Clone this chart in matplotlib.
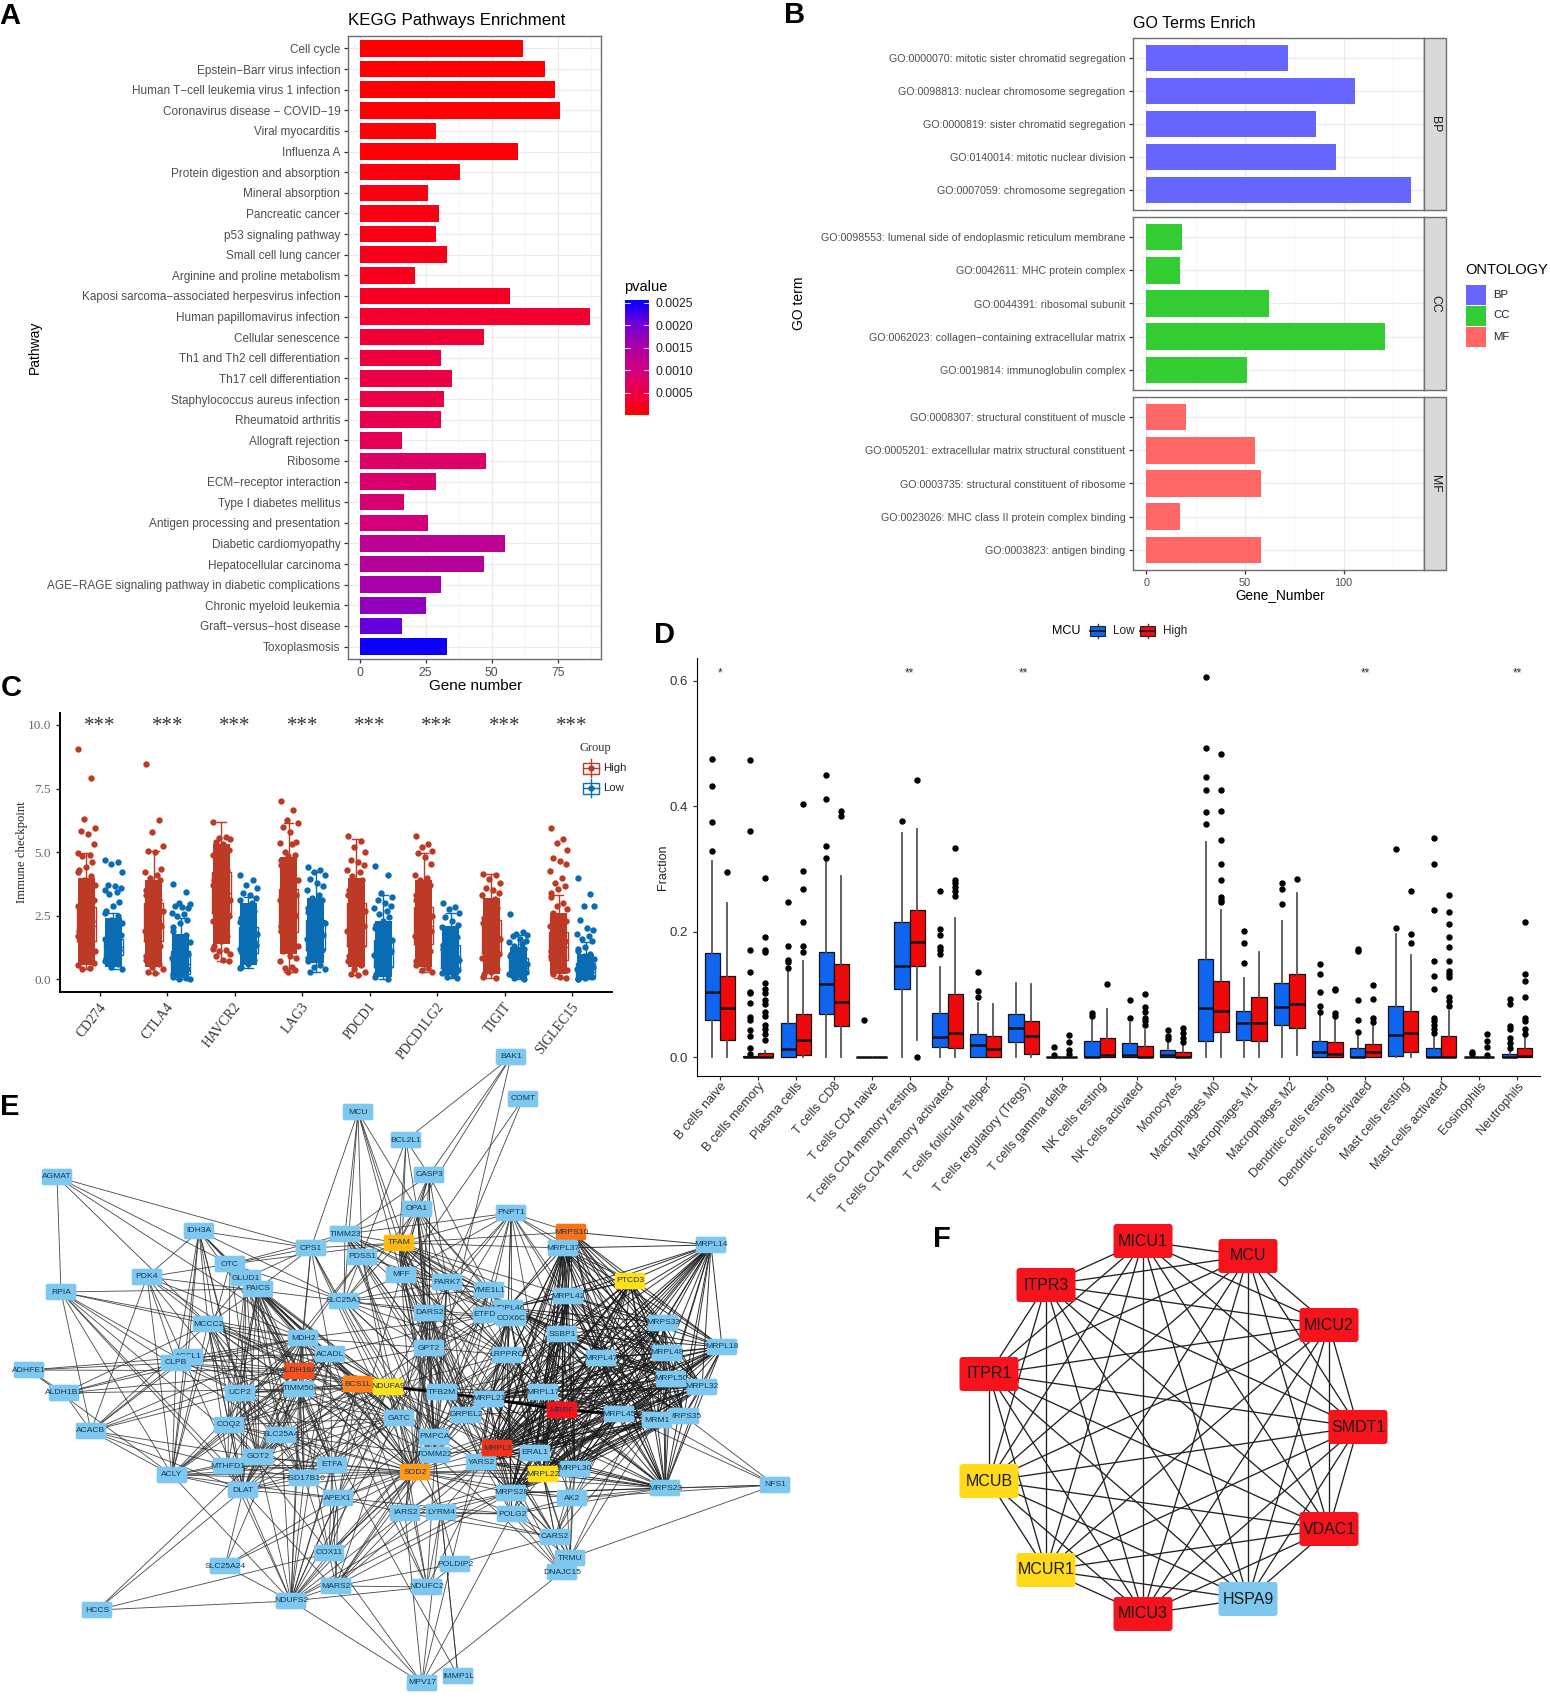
"""Six panel figure: KEGG, GO, immune checkpoints, immune fractions, PPI networks"""
from itertools import combinations
import matplotlib
matplotlib.use('Agg')
import matplotlib.pyplot as plt
from matplotlib.cm import ScalarMappable
from matplotlib.collections import LineCollection
from matplotlib.colors import LinearSegmentedColormap, Normalize
from matplotlib.patches import FancyBboxPatch, Rectangle
from matplotlib.transforms import ScaledTranslation

plt.rcParams['font.family'] = ['Liberation Sans', 'DejaVu Sans']

W, H = 1550, 1704
SERIF = ['Liberation Serif', 'DejaVu Serif']

# === Panel A data ===
KEGG_TERMS = ['Cell cycle', 'Epstein−Barr virus infection', 'Human T−cell leukemia virus 1 infection',
              'Coronavirus disease − COVID−19', 'Viral myocarditis', 'Influenza A',
              'Protein digestion and absorption', 'Mineral absorption', 'Pancreatic cancer',
              'p53 signaling pathway', 'Small cell lung cancer', 'Arginine and proline metabolism',
              'Kaposi sarcoma−associated herpesvirus infection', 'Human papillomavirus infection',
              'Cellular senescence', 'Th1 and Th2 cell differentiation', 'Th17 cell differentiation',
              'Staphylococcus aureus infection', 'Rheumatoid arthritis', 'Allograft rejection', 'Ribosome',
              'ECM−receptor interaction', 'Type I diabetes mellitus', 'Antigen processing and presentation',
              'Diabetic cardiomyopathy', 'Hepatocellular carcinoma',
              'AGE−RAGE signaling pathway in diabetic complications', 'Chronic myeloid leukemia',
              'Graft−versus−host disease', 'Toxoplasmosis']
KEGG_COUNT = [62, 70, 74, 76, 29, 60, 38, 26, 30, 29, 33, 21, 57, 87, 47, 31, 35, 32, 31, 16, 48, 29, 17, 26,
              55, 47, 31, 25, 16, 33]
KEGG_P = [0.00001, 0.00002, 0.00003, 0.00004, 0.00006, 0.00007, 0.0001, 0.00012, 0.00014, 0.00016, 0.0002,
          0.00022, 0.00027, 0.00035, 0.0004, 0.00045, 0.0005, 0.00052, 0.00058, 0.00065, 0.0008, 0.00085,
          0.0009, 0.00098, 0.00128, 0.00135, 0.00155, 0.00175, 0.0021, 0.0025]
P_TICKS = [0.0005, 0.0010, 0.0015, 0.0020, 0.0025]

# === Panel B data ===
BP_TERMS = ['GO:0000070: mitotic sister chromatid segregation', 'GO:0098813: nuclear chromosome segregation',
            'GO:0000819: sister chromatid segregation', 'GO:0140014: mitotic nuclear division',
            'GO:0007059: chromosome segregation']
BP_COUNT = [72, 106, 86, 96, 134]
CC_TERMS = ['GO:0098553: lumenal side of endoplasmic reticulum membrane', 'GO:0042611: MHC protein complex',
            'GO:0044391: ribosomal subunit', 'GO:0062023: collagen−containing extracellular matrix',
            'GO:0019814: immunoglobulin complex']
CC_COUNT = [18, 17, 62, 121, 51]
MF_TERMS = ['GO:0008307: structural constituent of muscle', 'GO:0005201: extracellular matrix structural constituent',
            'GO:0003735: structural constituent of ribosome', 'GO:0023026: MHC class II protein complex binding',
            'GO:0003823: antigen binding']
MF_COUNT = [20, 55, 58, 17, 58]

# === Panel C data ===
CHECKPOINTS = ['CD274', 'CTLA4', 'HAVCR2', 'LAG3', 'PDCD1', 'PDCD1LG2', 'TIGIT', 'SIGLEC15']
C_HIGH_Q1 = [1.5, 1.5, 2.6, 1.85, 1.3, 1.4, 1.05, 0.75]
C_HIGH_MED = [2.1, 2.2, 3.4, 2.6, 2.1, 2.1, 1.7, 1.25]
C_HIGH_Q3 = [2.85, 3.0, 4.2, 3.55, 3.0, 2.85, 2.35, 1.85]
C_HIGH_LO = [0.4, 0.25, 0.7, 0.3, 0.15, 0.3, 0.05, 0.05]
C_HIGH_HI = [4.95, 5.05, 6.2, 6.15, 5.5, 4.95, 4.15, 3.3]
C_LOW_Q1 = [0.95, 0.2, 1.05, 1.15, 0.5, 0.45, 0.2, 0.05]
C_LOW_MED = [1.25, 0.6, 1.5, 1.7, 1.0, 0.9, 0.45, 0.3]
C_LOW_Q3 = [1.6, 1.1, 2.05, 2.35, 1.55, 1.35, 0.85, 0.65]
C_LOW_LO = [0.4, 0.0, 0.45, 0.3, 0.0, 0.05, 0.03, 0.0]
C_LOW_HI = [2.6, 2.4, 3.25, 4.2, 3.3, 2.6, 1.75, 1.45]
# range where the dots merge into a solid column
C_HIGH_DENSE = [(0.55, 4.0), (0.5, 3.9), (1.4, 5.3), (1.0, 4.8), (0.5, 4.0), (0.5, 3.9), (0.2, 3.2), (0.2, 2.6)]
C_LOW_DENSE = [(0.5, 2.4), (0.05, 1.8), (0.55, 3.0), (0.65, 3.2), (0.1, 2.3), (0.15, 2.1), (0.05, 1.25), (0.02, 1.0)]
C_HIGH_POINTS = [
    [9.05, 7.9, 6.3, 5.95, 5.85, 5.7, 5.3, 4.95, 4.9, 4.85, 4.6, 4.4, 4.3, 4.2, 4.05, 3.9, 3.7, 3.5, 3.3, 3.1, 2.9,
     2.7, 2.5, 2.3, 2.1, 1.9, 1.7, 1.5, 1.3, 1.1, 0.95, 0.8, 0.65, 0.55, 0.45, 0.4],
    [8.45, 6.25, 5.8, 5.25, 5.05, 5.0, 4.35, 4.2, 4.1, 4.0, 3.9, 3.7, 3.5, 3.3, 3.1, 2.9, 2.7, 2.5, 2.3, 2.1, 1.9,
     1.7, 1.5, 1.3, 1.1, 0.9, 0.75, 0.6, 0.5, 0.4, 0.3, 0.25],
    [6.2, 5.6, 5.55, 5.5, 5.4, 5.3, 5.1, 4.9, 4.7, 4.5, 4.3, 4.1, 3.9, 3.7, 3.5, 3.3, 3.1, 2.9, 2.7, 2.5, 2.3, 2.1,
     1.9, 1.7, 1.5, 1.3, 1.2, 1.15, 1.1, 1.0, 0.9, 0.75, 0.7],
    [7.0, 6.65, 6.25, 6.15, 6.0, 5.8, 5.4, 5.35, 5.3, 5.0, 4.9, 4.85, 4.7, 4.5, 4.3, 4.1, 3.9, 3.7, 3.5, 3.3, 3.1,
     2.9, 2.7, 2.5, 2.3, 2.1, 1.9, 1.7, 1.5, 1.3, 1.1, 0.9, 0.85, 0.7, 0.5, 0.45, 0.35, 0.3],
    [5.65, 5.45, 5.2, 5.0, 4.7, 4.6, 4.5, 4.3, 4.2, 4.05, 3.9, 3.7, 3.5, 3.3, 3.1, 2.9, 2.7, 2.5, 2.3, 2.1, 1.9, 1.7,
     1.5, 1.3, 1.1, 0.9, 0.7, 0.55, 0.4, 0.3, 0.2, 0.15],
    [5.65, 5.3, 5.2, 5.05, 4.95, 4.8, 4.55, 4.1, 4.0, 3.9, 3.7, 3.5, 3.3, 3.1, 2.9, 2.7, 2.5, 2.3, 2.1, 1.9, 1.7, 1.5,
     1.3, 1.1, 0.9, 0.7, 0.55, 0.45, 0.35, 0.3],
    [4.15, 4.1, 3.95, 3.8, 3.6, 3.5, 3.4, 3.3, 3.15, 3.0, 2.8, 2.6, 2.4, 2.2, 2.0, 1.8, 1.6, 1.4, 1.2, 1.0, 0.85, 0.7,
     0.55, 0.4, 0.3, 0.2, 0.1, 0.05],
    [5.95, 5.5, 5.35, 5.1, 4.75, 4.65, 4.55, 4.25, 4.0, 3.8, 3.65, 3.55, 3.4, 3.25, 3.0, 2.9, 2.75, 2.6, 2.45, 2.3,
     2.1, 1.9, 1.7, 1.5, 1.3, 1.1, 0.9, 0.7, 0.5, 0.35, 0.2, 0.1, 0.05]]
C_LOW_POINTS = [
    [4.7, 4.6, 4.55, 4.2, 3.7, 3.65, 3.6, 3.5, 3.45, 3.35, 3.05, 2.9, 2.7, 2.6, 2.5, 2.35, 2.2, 2.05, 1.9, 1.75, 1.6,
     1.45, 1.3, 1.15, 1.0, 0.85, 0.7, 0.6, 0.5, 0.4],
    [3.75, 3.45, 3.0, 2.95, 2.9, 2.85, 2.8, 2.6, 2.55, 2.5, 2.35, 2.2, 2.05, 1.9, 1.75, 1.6, 1.45, 1.3, 1.15, 1.0, 0.85,
     0.7, 0.55, 0.4, 0.3, 0.2, 0.1, 0.05, 0.0, 0.0],
    [4.1, 3.9, 3.7, 3.6, 3.4, 3.3, 3.2, 3.1, 3.0, 2.85, 2.7, 2.55, 2.4, 2.25, 2.1, 1.95, 1.8, 1.65, 1.5, 1.35, 1.2,
     1.05, 0.9, 0.75, 0.6, 0.5, 0.45],
    [4.4, 4.3, 4.2, 4.1, 3.95, 3.8, 3.65, 3.5, 3.3, 3.2, 3.1, 2.95, 2.8, 2.65, 2.5, 2.35, 2.2, 2.05, 1.9, 1.75, 1.6,
     1.45, 1.3, 1.15, 1.0, 0.85, 0.7, 0.55, 0.5, 0.4, 0.3],
    [4.45, 4.1, 3.4, 3.25, 3.1, 3.0, 2.9, 2.8, 2.7, 2.55, 2.45, 2.3, 2.15, 2.0, 1.85, 1.7, 1.55, 1.4, 1.25, 1.1, 0.95,
     0.8, 0.65, 0.5, 0.35, 0.2, 0.1, 0.0],
    [3.0, 2.85, 2.75, 2.6, 2.45, 2.3, 2.15, 2.05, 1.95, 1.8, 1.65, 1.5, 1.35, 1.2, 1.05, 0.9, 0.75, 0.6, 0.45, 0.35,
     0.25, 0.15, 0.1, 0.05],
    [2.55, 1.85, 1.8, 1.75, 1.7, 1.6, 1.5, 1.45, 1.4, 1.3, 1.2, 1.1, 1.0, 0.9, 0.8, 0.7, 0.6, 0.5, 0.4, 0.3, 0.2, 0.1,
     0.05, 0.03],
    [4.0, 3.35, 2.9, 2.9, 2.35, 2.0, 1.95, 1.8, 1.7, 1.6, 1.5, 1.25, 1.2, 1.1, 1.0, 0.9, 0.8, 0.7, 0.6, 0.5, 0.4, 0.3,
     0.2, 0.1, 0.05, 0.0, 0.0]]

# === Panel D data ===
CELL_TYPES = ['B cells naive', 'B cells memory', 'Plasma cells', 'T cells CD8', 'T cells CD4 naive',
              'T cells CD4 memory resting', 'T cells CD4 memory activated', 'T cells follicular helper',
              'T cells regulatory (Tregs)', 'T cells gamma delta', 'NK cells resting', 'NK cells activated',
              'Monocytes', 'Macrophages M0', 'Macrophages M1', 'Macrophages M2', 'Dendritic cells resting',
              'Dendritic cells activated', 'Mast cells resting', 'Mast cells activated', 'Eosinophils', 'Neutrophils']
D_LOW_Q1 = [.060, 0, 0, .068, 0, .108, .016, 0, .024, 0, 0, 0, 0, .026, .027, .051, 0, 0, .002, 0, 0, 0]
D_LOW_MED = [.104, 0, .013, .117, 0, .146, .032, .02, .047, 0, .001, .003, .003, .079, .054, .08, .009, 0, .035, 0, 0, 0]
D_LOW_Q3 = [.166, .002, .055, .167, 0, .215, .071, .037, .069, .001, .025, .023, .012, .156, .073, .118, .026, .015,
            .082, .015, .001, .005]
D_LOW_WLO = [0, 0, 0, 0, 0, 0, 0, 0, 0, 0, 0, 0, 0, 0, 0, 0, 0, 0, 0, 0, 0, 0]
D_LOW_WHI = [.312, .004, .142, .312, 0, .357, .144, .086, .118, .002, .06, .055, .026, .343, .126, .217, .069, .035,
             .196, .035, .002, .011]
D_LOW_OUT = [[.328, .375, .432, .475],
             [.005, .015, .034, .044, .06, .064, .087, .102, .104, .136, .171, .36, .474],
             [.142, .151, .155, .177, .248], [.317, .336, .412, .45], [.06], [.377],
             [.165, .17, .175, .194, .204, .265], [.096, .106, .136], [], [.003, .016], [.066, .07], [.063, .091],
             [.029, .034, .044], [.371, .391, .425, .447, .492, .606], [.15, .182, .201], [.244, .268, .278],
             [.072, .081, .104, .133, .148], [.04, .06, .091, .169, .173], [.206, .331],
             [.038, .045, .051, .057, .063, .108, .129, .154, .235, .307, .35], [.005, .008],
             [.015, .023, .031, .045, .049, .085, .092]]
D_HIGH_Q1 = [.027, 0, .004, .049, 0, .145, .014, 0, .005, 0, 0, 0, 0, .04, .025, .046, 0, 0, .009, 0, 0, 0]
D_HIGH_MED = [.079, 0, .027, .088, 0, .183, .039, .013, .034, 0, .004, 0, 0, .073, .054, .085, .005, .009, .038, 0, 0, .002]
D_HIGH_Q3 = [.129, .006, .069, .148, 0, .235, .101, .034, .057, .001, .031, .018, .009, .121, .096, .132, .024, .021,
             .074, .033, .001, .015]
D_HIGH_WLO = [0, 0, 0, 0, 0, .028, 0, 0, 0, 0, 0, 0, 0, 0, 0, .003, 0, 0, 0, 0, 0, 0]
D_HIGH_WHI = [.245, .01, .153, .288, 0, .364, .221, .085, .116, .002, .076, .043, .021, .235, .168, .262, .06, .052,
              .162, .073, .002, .032]
D_HIGH_OUT = [[.295], [.027, .037, .045, .052, .066, .072, .085, .091, .102, .108, .118, .167, .171, .192, .285],
              [.168, .177, .215, .268, .296, .403], [.385, .393], [], [0.0, .441],
              [.257, .264, .271, .278, .282, .333], [], [], [.005, .011, .024, .035], [.117],
              [.051, .057, .063, .072, .08, .101], [.024, .03, .038, .046],
              [.247, .25, .255, .283, .307, .346, .393, .425, .483], [], [.284], [.066, .07, .107, .109],
              [.056, .063, .093, .115], [.182, .197, .265],
              [.081, .09, .096, .127, .133, .137, .154, .176, .191, .212, .232, .259], [.003, .017, .026, .037],
              [.037, .045, .057, .063, .096, .122, .133, .215]]
D_SIG = ['*', '', '', '', '', '**', '', '', '**', '', '', '', '', '', '', '', '', '**', '', '', '', '**']

# === Panel E data: node names, then the layout ===
E_NAMES = ['MCU', 'BCL2L1', 'AGMAT', 'IDH3A', 'TIMM23', 'CPS1', 'TFAM', 'PDSS1', 'OTC', 'PDK4', 'GLUD1', 'MFF', 'RPIA',
           'PAICS', 'SLC25A1', 'MCCC2', 'MDH2', 'ACADL', 'ACSL1', 'CLPB', 'ADHFE1', 'ALDH18A', 'BAK1', 'COMT', 'CASP3',
           'OPA1', 'PNPT1', 'MRPS10', 'MRPL37', 'MRPL14', 'PTCD3', 'PARK7', 'YME1L1', 'MRPL42', 'MRPL46', 'ETFDH',
           'COX6C', 'DARS2', 'MRPS33', 'SSBP1', 'MRPL18', 'GPT2', 'LRPPRC', 'MRPL47', 'MRPL48', 'TIMM50', 'UCP2',
           'BCS1L', 'NDUFA9', 'TFB2M', 'GATC', 'GRPEL2', 'COQ2', 'SLC25A4', 'PMPCA', 'GOT2', 'TOMM22', 'YARS2', 'MTHFD1',
           'ETFA', 'SOD2', 'HSD17B10', 'DLAT', 'APEX1', 'IARS2', 'LYRM4', 'MRPL50', 'MRPL32', 'MRPL17', 'MRPL21', 'MRRF',
           'MRPL45', 'MRPS35', 'MRM1', 'MRPL3', 'ERAL1', 'MRPL30', 'MRPL22', 'MRPS23', 'MRPS28', 'AK2', 'POLG2',
           'ALDH1B1', 'ACACB', 'ACLY', 'NFS1', 'CARS2', 'COX11', 'DNAJC15', 'TRMU', 'SLC25A24', 'POLDIP2', 'MARS2',
           'NDUFC2', 'NDUFS2', 'HCCS', 'MPV17', 'IMMP1L']
E_X = [358, 406, 57, 199, 345, 311, 399, 362, 230, 147, 246, 401, 61, 258, 344, 208, 303, 330, 188, 176, 29, 299, 511, 523,
       429, 417, 511, 571, 563, 711, 630, 447, 489, 568, 508, 488, 511, 429, 663, 562, 722, 429, 507, 601, 667, 299, 240,
       358, 388, 442, 399, 466, 229, 281, 434, 258, 435, 481, 228, 332, 415, 304, 243, 338, 405, 441, 671, 702, 543, 489,
       562, 619, 684, 657, 497, 535, 575, 543, 665, 511, 572, 512, 64, 91, 172, 775, 555, 329, 562, 570, 225, 455, 336,
       427, 291, 97, 422, 458]
E_Y = [1112, 1140, 1177, 1231, 1234, 1248, 1243, 1257, 1264, 1277, 1278, 1275, 1292, 1289, 1301, 1324, 1338, 1354, 1357,
       1363, 1370, 1371, 1057, 1099, 1175, 1209, 1213, 1232, 1248, 1245, 1281, 1282, 1290, 1296, 1308, 1315, 1318, 1313,
       1323, 1334, 1347, 1348, 1355, 1358, 1353, 1389, 1393, 1384, 1387, 1392, 1418, 1415, 1425, 1435, 1437, 1457, 1455,
       1462, 1466, 1465, 1472, 1478, 1490, 1498, 1513, 1512, 1379, 1387, 1392, 1399, 1410, 1414, 1416, 1420, 1448, 1453,
       1469, 1474, 1488, 1493, 1498, 1514, 1393, 1431, 1475, 1485, 1537, 1553, 1572, 1558, 1566, 1564, 1586, 1587, 1601,
       1610, 1683, 1676]
E_COLORS = {'TFAM': '#FFB90F', 'ALDH18A': '#F4511E', 'MRPS10': '#F97316', 'PTCD3': '#FFE11A', 'BCS1L': '#FF7F1E',
            'NDUFA9': '#FFE31A', 'SOD2': '#FF9A1A', 'MRRF': '#F5141E', 'MRPL3': '#F53018', 'MRPL22': '#FFDD1A'}
# fully linked modules
E_RIBO = ['MRPL37', 'MRPS10', 'MRPL14', 'PTCD3', 'MRPL42', 'MRPL46', 'MRPS33', 'SSBP1', 'MRPL18', 'MRPL47', 'MRPL48',
          'MRPL50', 'MRPL32', 'MRPL17', 'MRPL21', 'MRRF', 'MRPL45', 'MRM1', 'MRPS35', 'MRPL3', 'ERAL1', 'MRPL22',
          'MRPL30', 'MRPS23', 'MRPS28', 'YARS2']
E_MODULES = [
    ['MDH2', 'ALDH18A', 'TIMM50', 'BCS1L', 'NDUFA9', 'GATC', 'ACADL', 'GOT2', 'SOD2', 'ETFA', 'DLAT', 'UCP2', 'COQ2',
     'SLC25A4', 'HSD17B10', 'GLUD1', 'PAICS', 'MCCC2'],
    ['TFAM', 'TIMM23', 'OPA1', 'MFF', 'SLC25A1', 'PARK7', 'YME1L1', 'DARS2', 'GPT2', 'TFB2M', 'LRPPRC', 'COX6C',
     'GRPEL2', 'PMPCA', 'TOMM22'],
]
E_LINKS = {
    'BAK1': ['BCL2L1', 'CASP3', 'OPA1', 'SOD2'],
    'COMT': ['PARK7', 'MFF'],
    'MCU': ['CPS1', 'TIMM23', 'PDSS1', 'SLC25A1', 'TFAM', 'MFF', 'OPA1', 'DARS2'],
    'BCL2L1': ['CASP3', 'OPA1', 'TFAM', 'MFF', 'SLC25A1'],
    'CASP3': ['OPA1', 'TFAM', 'PARK7', 'YME1L1', 'MFF', 'DARS2', 'SOD2', 'GPT2', 'TIMM23', 'APEX1'],
    'AGMAT': ['RPIA', 'CPS1', 'OTC', 'MDH2', 'MCCC2'],
    'RPIA': ['ACACB', 'ACLY', 'DLAT', 'MTHFD1', 'MCCC2', 'GOT2', 'PAICS', 'MDH2', 'SLC25A4', 'UCP2'],
    'PDK4': ['IDH3A', 'OTC', 'ACLY', 'ACACB', 'MCCC2', 'CLPB', 'MDH2', 'DLAT', 'SLC25A1', 'ALDH18A', 'UCP2'],
    'IDH3A': ['MCCC2', 'ACLY', 'CLPB', 'UCP2', 'MDH2', 'ALDH18A', 'OTC', 'GLUD1', 'PAICS', 'CPS1', 'DLAT', 'SLC25A1',
              'GOT2', 'ACSL1'],
    'OTC': ['CPS1', 'TIMM23', 'MDH2', 'GLUD1', 'ALDH18A', 'ACLY', 'MTHFD1', 'SLC25A1', 'GOT2', 'TFAM'],
    'CPS1': ['TIMM23', 'TFAM', 'PAICS', 'GLUD1', 'MDH2', 'ACADL', 'SOD2', 'ALDH18A', 'GATC', 'NDUFA9'],
    'PDSS1': ['TIMM23', 'TFAM', 'COQ2', 'MDH2', 'SOD2', 'NDUFA9', 'GPT2', 'PARK7'],
    'CLPB': ['ALDH18A', 'TIMM50', 'ACADL', 'MDH2', 'BCS1L', 'ACSL1', 'UCP2'],
    'ACSL1': ['ALDH18A', 'ACADL', 'MDH2', 'ACLY'],
    'ADHFE1': ['ALDH1B1', 'CLPB', 'ALDH18A', 'ACSL1', 'ACLY'],
    'ALDH1B1': ['ACACB', 'ALDH18A', 'MCCC2', 'CLPB', 'MDH2', 'TIMM50'],
    'ACACB': ['ACLY', 'MTHFD1', 'DLAT', 'GOT2', 'MCCC2', 'CLPB', 'UCP2', 'ACSL1', 'ACADL', 'MDH2'],
    'ACLY': ['CLPB', 'MTHFD1', 'GOT2', 'ETFA', 'DLAT', 'MCCC2', 'NDUFS2', 'SOD2', 'ACADL', 'COQ2', 'TIMM50', 'HSD17B10',
             'ALDH18A', 'MDH2', 'APEX1'],
    'MTHFD1': ['DLAT', 'GOT2', 'ETFA', 'SOD2', 'NDUFS2', 'MCCC2', 'PAICS', 'MDH2', 'HSD17B10'],
    'PNPT1': ['TFAM', 'MRPS10', 'MRPL37', 'YME1L1', 'COX6C', 'PTCD3', 'MRPL42', 'LRPPRC', 'DARS2', 'PARK7', 'MRPL46',
              'SSBP1', 'TIMM23', 'MRPL47', 'ETFDH', 'MRPL17', 'GPT2', 'MFF'],
    'ETFDH': ['ETFA', 'ACADL', 'MDH2', 'PARK7', 'COX6C', 'SOD2', 'NDUFA9', 'GPT2'],
    'TFAM': ['MRPL37', 'MRPS10', 'SSBP1', 'MRPL42', 'MRPL47', 'MRPL17', 'MRPL21', 'SOD2', 'ERAL1', 'POLG2', 'MRPL45',
             'MRPL48'],
    'TFB2M': ['MRPL21', 'MRRF', 'ERAL1', 'SSBP1', 'POLG2', 'MRPS28', 'MRPL47', 'NDUFA9', 'BCS1L', 'MRPL17'],
    'LRPPRC': ['MRPL47', 'MRPL42', 'SSBP1', 'MRRF', 'MRPL3', 'MRPL17', 'MRPL21', 'MRPL45', 'POLG2', 'MRPL30', 'MRPS28',
               'ERAL1', 'MRPL22', 'SOD2', 'NDUFA9', 'AK2'],
    'YARS2': ['IARS2', 'DARS2', 'CARS2', 'MARS2', 'GATC', 'GPT2', 'PAICS', 'SOD2', 'NDUFA9'],
    'DARS2': ['IARS2', 'CARS2', 'MARS2', 'GATC', 'MRPL3', 'MRRF', 'MRPS28', 'SOD2', 'NDUFA9'],
    'GPT2': ['GOT2', 'MDH2', 'ALDH18A', 'SOD2', 'GATC', 'APEX1', 'MRPL21', 'MRPS28', 'IARS2'],
    'NDUFA9': ['SOD2', 'NDUFC2', 'NDUFS2', 'LYRM4', 'TOMM22', 'TIMM50', 'MRRF', 'MRPL3', 'ERAL1', 'COX11', 'MRPL17'],
    'BCS1L': ['NDUFS2', 'COX11', 'LYRM4', 'GATC', 'TOMM22', 'SOD2', 'MRPL21', 'MRPL3', 'IARS2', 'ETFA'],
    'SOD2': ['APEX1', 'ETFA', 'MRPS23', 'AK2', 'MRPS28', 'POLG2', 'MRPL22', 'MRPL30', 'MRPL3', 'YARS2', 'COX11', 'TOMM22',
             'MARS2', 'PMPCA', 'IARS2', 'MRRF'],
    'APEX1': ['IARS2', 'POLG2', 'NDUFS2', 'HSD17B10', 'SLC25A24', 'DLAT', 'COX11', 'MARS2', 'ETFA', 'SSBP1', 'MRRF'],
    'IARS2': ['LYRM4', 'POLG2', 'MARS2', 'NDUFS2', 'CARS2', 'MPV17', 'MRPL3', 'MRPS28', 'MRPL22'],
    'LYRM4': ['POLG2', 'NDUFS2', 'NDUFC2', 'CARS2', 'IMMP1L', 'MRPS28', 'POLDIP2', 'TOMM22', 'MRPL3'],
    'POLG2': ['CARS2', 'DNAJC15', 'TRMU', 'MPV17', 'MRPL3', 'MRPS28', 'ERAL1', 'MRPL22', 'MRRF', 'AK2'],
    'AK2': ['MRPS23', 'NFS1', 'CARS2', 'TRMU', 'MRPL30', 'MRPS28', 'MRRF', 'MRPL45', 'POLG2', 'MRM1'],
    'NFS1': ['MRPS23', 'TRMU', 'MRM1', 'MRPL45', 'MRPS28', 'MRPS35'],
    'CARS2': ['DNAJC15', 'TRMU', 'MRPS28', 'MRPL3', 'MRPL22', 'MRPL45', 'POLDIP2', 'MRPL30', 'MRM1'],
    'TRMU': ['DNAJC15', 'MRPL22', 'MRPL30', 'MRPL3', 'ERAL1', 'MRRF', 'MRM1', 'MRPL48'],
    'DNAJC15': ['MPV17', 'MRPS28', 'MRPL3', 'MRPL22', 'TOMM22'],
    'COX11': ['NDUFS2', 'MARS2', 'HSD17B10', 'TIMM50', 'ETFA', 'MPV17', 'HCCS', 'TOMM22', 'PMPCA', 'COQ2'],
    'NDUFS2': ['DLAT', 'SLC25A24', 'MTHFD1', 'ETFA', 'MARS2', 'NDUFC2', 'HCCS', 'MPV17', 'GOT2', 'MDH2', 'PMPCA', 'TOMM22',
               'ACADL', 'TIMM50', 'SLC25A4', 'HSD17B10', 'GATC', 'MRPL22'],
    'HCCS': ['DLAT', 'SLC25A4'],
    'SLC25A24': ['SLC25A4', 'DLAT', 'SOD2'],
    'MARS2': ['ETFA', 'POLDIP2', 'NDUFC2', 'TOMM22', 'YARS2', 'MRPS28', 'PMPCA'],
    'NDUFC2': ['TOMM22', 'POLDIP2', 'GATC', 'ACADL', 'MDH2', 'MRPL3'],
    'MPV17': ['DLAT', 'LYRM4', 'COX6C'],
    'IMMP1L': ['TIMM50', 'TOMM22'],
    'TOMM22': ['MRRF', 'MRPL3', 'MRPL21', 'TIMM50', 'SLC25A4'],
    'MRPS35': ['ERAL1', 'SSBP1'],
    'MRPS23': ['POLG2', 'TFB2M', 'LRPPRC'],
    'GRPEL2': ['MRRF', 'MRPL3', 'MRPL21', 'MRPL47', 'ERAL1'],
}
E_BOLD = [('MRRF', 'MRPL21'), ('MRRF', 'MRPL45'), ('TFB2M', 'MRPL21'), ('BCS1L', 'TFB2M')]

# === Panel F data ===
F_NAMES = ['MICU1', 'MCU', 'MICU2', 'SMDT1', 'VDAC1', 'HSPA9', 'MICU3', 'MCUR1', 'MCUB', 'ITPR1', 'ITPR3']
F_X = [1143, 1248, 1329, 1358, 1329, 1248, 1143, 1046, 989, 989, 1046]
F_Y = [1241, 1256, 1325, 1427, 1529, 1599, 1614, 1570, 1481, 1374, 1285]
F_COLORS = ['#F5141E', '#F5141E', '#F5141E', '#F5141E', '#F5141E', '#7EC8F0', '#F5141E', '#FFD91A', '#FFD91A', '#F5141E',
            '#F5141E']


def add_ax(l, t, r, b):
    return fig.add_axes([l / W, 1 - b / H, (r - l) / W, (b - t) / H])


def bw_axes(ax):
    # ggplot theme_bw look
    ax.set_axisbelow(True)
    ax.grid(True, color='#EBEBEB', lw=0.9)
    ax.grid(True, which='minor', axis='x', color='#F0F0F0', lw=0.5)
    for s in ax.spines.values():
        s.set_color('#6E6E6E')
        s.set_linewidth(1.0)
    ax.tick_params(axis='both', color='#333333', length=3, width=0.9, labelcolor='#4D4D4D', pad=2.5)


def nudge_xlabels(ax, dx, dy):
    # move rotated tick labels by some pixels, down is negative dy
    shift = ScaledTranslation(dx / 100, dy / 100, fig.dpi_scale_trans)
    for lab in ax.get_xticklabels():
        lab.set_transform(lab.get_transform() + shift)


fig = plt.figure(figsize=(W / 100, H / 100), dpi=100)
fig.patch.set_facecolor('white')

# === Panel A ===
p_cmap = LinearSegmentedColormap.from_list('pv', ['#FF0000', '#EC0046', '#D00080', '#A800A8', '#7000D8', '#0000FF'])
p_norm = Normalize(0, 0.00256)
ax = add_ax(348, 36, 601, 659)
ypos = list(range(1, len(KEGG_TERMS) + 1))
ax.barh(ypos, KEGG_COUNT, height=0.8, color=p_cmap(p_norm(KEGG_P)))
ax.set_xlim(-4.35, 91.35)
ax.set_ylim(30.6, 0.4)
ax.set_yticks(ypos)
ax.set_yticklabels(KEGG_TERMS, fontsize=8.5)
ax.set_xticks([0, 25, 50, 75])
ax.set_xticks([12.5, 37.5, 62.5, 87.5], minor=True)
ax.tick_params(axis='x', which='minor', length=0)
ax.tick_params(axis='x', labelsize=8.7)
bw_axes(ax)

cax = add_ax(625, 300, 649, 415)
cb = fig.colorbar(ScalarMappable(p_norm, p_cmap), cax=cax)
cb.outline.set_visible(False)
cb.set_ticks(P_TICKS)
cb.set_ticklabels(['%.4f' % t for t in P_TICKS])
cb.ax.tick_params(length=0, labelsize=8.7, labelcolor='#222222', pad=5)
for t in P_TICKS:
    cb.ax.plot([0, 0.2], [t, t], color='white', lw=0.6, transform=cb.ax.get_yaxis_transform())
    cb.ax.plot([0.8, 1], [t, t], color='white', lw=0.6, transform=cb.ax.get_yaxis_transform())

# === Panel B ===
B_COLORS = ['#6666FF', '#33CC33', '#FF6666']
B_ROWS = [(38, 210, BP_TERMS, BP_COUNT, 'BP'), (217, 390, CC_TERMS, CC_COUNT, 'CC'), (397, 570, MF_TERMS, MF_COUNT, 'MF')]
for i, (top, bottom, terms, counts, strip) in enumerate(B_ROWS):
    ax = add_ax(1133, top, 1424, bottom)
    yp = list(range(1, 6))
    ax.barh(yp, counts, height=0.8, color=B_COLORS[i])
    ax.set_xlim(-6.7, 140.7)
    ax.set_ylim(5.6, 0.4)
    ax.set_yticks(yp)
    ax.set_yticklabels(terms, fontsize=7.7)
    ax.set_xticks([0, 50, 100])
    ax.set_xticks([25, 75, 125], minor=True)
    ax.tick_params(axis='x', which='minor', length=0)
    bw_axes(ax)
    ax.spines['right'].set_color('#333333')
    if i < 2:
        ax.tick_params(axis='x', length=0, labelbottom=False)
    else:
        ax.tick_params(axis='x', labelsize=7.8)

# === Panel C ===
C_RED = '#BC3A26'
C_BLUE = '#0A6CB2'
# fixed horizontal spread of the dots inside a column
C_SPREAD = [-0.12, 0.07, -0.03, 0.13, -0.08, 0.02, 0.11, -0.13, 0.05, -0.06, 0.09, -0.01, -0.11]
ax = add_ax(60, 713, 612, 992)
groups = [(-0.2, C_RED, C_HIGH_Q1, C_HIGH_MED, C_HIGH_Q3, C_HIGH_LO, C_HIGH_HI, C_HIGH_DENSE, C_HIGH_POINTS),
          (0.2, C_BLUE, C_LOW_Q1, C_LOW_MED, C_LOW_Q3, C_LOW_LO, C_LOW_HI, C_LOW_DENSE, C_LOW_POINTS)]
for dx, col, q1s, meds, q3s, los, his, dense, pts in groups:
    stats = [dict(med=m, q1=a, q3=b, whislo=l, whishi=h, fliers=[]) for m, a, b, l, h in zip(meds, q1s, q3s, los, his)]
    pos = [i + 1 + dx for i in range(len(CHECKPOINTS))]
    ax.bxp(stats, positions=pos, widths=0.28, manage_ticks=False,
           boxprops=dict(color=col, lw=1), medianprops=dict(color=col, lw=1), whiskerprops=dict(color=col, lw=1),
           capprops=dict(color=col, lw=1), capwidths=0.14)
    ax.bar(pos, [d[1] - d[0] for d in dense], bottom=[d[0] for d in dense], width=0.25, color=col, zorder=3)
    xs, ys = [], []
    for p, vals in zip(pos, pts):
        for j, v in enumerate(vals):
            xs.append(p + C_SPREAD[j % len(C_SPREAD)])
            ys.append(v)
    ax.scatter(xs, ys, s=21, color=col, linewidths=0, zorder=4)
ax.set_xlim(0.41, 8.59)
ax.set_ylim(-0.5, 10.47)
ax.set_yticks([0, 2.5, 5, 7.5, 10])
ax.set_yticklabels(['0.0', '2.5', '5.0', '7.5', '10.0'], family=SERIF, fontsize=9.5, color='#666666')
ax.set_xticks(range(1, 9))
ax.set_xticklabels(CHECKPOINTS, family=SERIF, fontsize=9.8, color='#333333', rotation=52, ha='right', va='center',
                   rotation_mode='anchor')
ax.tick_params(axis='both', length=3, width=1, color='#222222')
ax.tick_params(axis='x', pad=6)
nudge_xlabels(ax, 4, 0)
for s in ['top', 'right']:
    ax.spines[s].set_visible(False)
for s in ['left', 'bottom']:
    ax.spines[s].set_linewidth(1.4)
ax.patch.set_alpha(0)
for i in range(8):
    ax.text(i + 1, 9.95, '***', family=SERIF, fontsize=15, color='#333333', ha='center', va='center')

# === Panel D ===
D_BLUE = '#0F64F0'
D_RED = '#EE0A0A'
ax = add_ax(697, 658, 1540, 1076)
series = [(-0.2, D_BLUE, D_LOW_Q1, D_LOW_MED, D_LOW_Q3, D_LOW_WLO, D_LOW_WHI, D_LOW_OUT),
          (0.2, D_RED, D_HIGH_Q1, D_HIGH_MED, D_HIGH_Q3, D_HIGH_WLO, D_HIGH_WHI, D_HIGH_OUT)]
for dx, col, q1s, meds, q3s, los, his, outs in series:
    stats = [dict(med=m, q1=a, q3=b, whislo=l, whishi=h, fliers=o)
             for m, a, b, l, h, o in zip(meds, q1s, q3s, los, his, outs)]
    ax.bxp(stats, positions=[i + 1 + dx for i in range(len(CELL_TYPES))], widths=0.4, patch_artist=True,
           manage_ticks=False, showcaps=False,
           boxprops=dict(facecolor=col, edgecolor='#111111', lw=0.9),
           medianprops=dict(color='#111111', lw=1.8),
           whiskerprops=dict(color='#555555', lw=1.3),
           flierprops=dict(marker='o', markerfacecolor='k', markeredgecolor='k', markersize=3.6))
ax.set_xlim(0.4, 22.6)
ax.set_ylim(-0.03, 0.636)
ax.set_yticks([0, 0.2, 0.4, 0.6])
ax.set_yticklabels(['0.0', '0.2', '0.4', '0.6'], fontsize=9.5, color='#333333')
ax.set_xticks(range(1, 23))
ax.set_xticklabels(CELL_TYPES, fontsize=9.2, color='#333333', rotation=49, ha='right', va='center',
                   rotation_mode='anchor')
ax.tick_params(axis='both', length=3, width=0.9, color='#333333')
ax.tick_params(axis='x', pad=5)
nudge_xlabels(ax, 5, 3)
for s in ['top', 'right']:
    ax.spines[s].set_visible(False)
for i, s in enumerate(D_SIG):
    if s:
        ax.text(i + 1, 0.612, s, fontsize=8.5, color='#333333', ha='center', va='center')
ax.patch.set_alpha(0)

# === Overlay in picture pixels: texts, legends, networks ===
ov = fig.add_axes([0, 0, 1, 1], zorder=10)
ov.set_xlim(0, W)
ov.set_ylim(H, 0)
ov.axis('off')

for letter, x, y in [('A', 10, 16), ('B', 795, 15), ('C', 11, 688), ('D', 665, 635), ('E', 10, 1107), ('F', 942, 1239)]:
    ov.text(x, y, letter, fontsize=21, fontweight='bold', color='black', ha='center', va='center')

# panel A texts
ov.text(348, 20, 'KEGG Pathways Enrichment', fontsize=12.2, ha='left', va='center')
ov.text(476, 686, 'Gene number', fontsize=11, ha='center', va='center')
ov.text(35, 347, 'Pathway', fontsize=10, rotation=90, ha='center', va='center')
ov.text(624, 287, 'pvalue', fontsize=10.5, ha='left', va='center')

# panel B texts, strips and legend
ov.text(1133, 23, 'GO Terms Enrich', fontsize=11.5, ha='left', va='center')
ov.text(1280, 595, 'Gene_Number', fontsize=9.8, ha='center', va='center')
ov.text(799, 303, 'GO term', fontsize=10, rotation=90, ha='center', va='center')
for top, bottom, terms, counts, strip in B_ROWS:
    ov.add_patch(Rectangle((1424, top), 22, bottom - top, facecolor='#D9D9D9', edgecolor='#6E6E6E', lw=1))
    ov.text(1435, (top + bottom) / 2, strip, fontsize=8.8, color='#1A1A1A', rotation=-90, ha='center', va='center')
ov.text(1465, 270, 'ONTOLOGY', fontsize=10.5, ha='left', va='center')
for i, name in enumerate(['BP', 'CC', 'MF']):
    ov.add_patch(Rectangle((1466, 284.5 + i * 21), 20, 20, facecolor=B_COLORS[i], edgecolor='none'))
    ov.text(1493, 294.5 + i * 21, name, fontsize=8.2, color='#222222', ha='left', va='center')

# panel C texts and legend
ov.text(22, 852, 'Immune checkpoint', family=SERIF, fontsize=9.2, color='#222222', rotation=90, ha='center', va='center')
ov.text(580, 748, 'Group', family=SERIF, fontsize=9, color='#333333', ha='left', va='center')
for name, col, y in [('High', C_RED, 768), ('Low', C_BLUE, 788)]:
    ov.add_patch(Rectangle((583, y - 5.5), 16, 11, facecolor='white', edgecolor=col, lw=1))
    ov.plot([591, 591], [y - 9, y + 9], color=col, lw=1, zorder=1)
    ov.plot([583, 599], [y, y], color=col, lw=1)
    ov.plot([591], [y], 'o', color=col, ms=3.5)
    ov.text(603, y, name, fontsize=8.2, color='#222222', ha='left', va='center')

# panel D texts and legend
ov.text(663, 867, 'Fraction', fontsize=9, color='#222222', rotation=90, ha='center', va='center')
ov.text(1052, 631, 'MCU', fontsize=9, ha='left', va='center')
for name, col, x, tx in [('Low', D_BLUE, 1090, 1112.5), ('High', D_RED, 1140, 1162.5)]:
    ov.plot([x + 7.5, x + 7.5], [624, 638], color='#333333', lw=1)
    ov.add_patch(Rectangle((x, 626), 15, 10, facecolor=col, edgecolor='#222222', lw=0.8, zorder=3))
    ov.plot([x, x + 15], [631, 631], color='#111111', lw=1.2, zorder=4)
    ov.text(tx, 631, name, fontsize=8.5, color='#222222', ha='left', va='center')

# panel E
e_pos = dict(zip(E_NAMES, zip(E_X, E_Y)))
ribo_pairs = set(frozenset(p) for p in combinations(E_RIBO, 2))
e_pairs = set()
for module in E_MODULES:
    e_pairs.update(frozenset(p) for p in combinations(module, 2))
for src, targets in E_LINKS.items():
    e_pairs.update(frozenset((src, t)) for t in targets)
e_pairs -= ribo_pairs
segs = [[e_pos[a], e_pos[b]] for a, b in (tuple(p) for p in e_pairs)]
ribo_segs = [[e_pos[a], e_pos[b]] for a, b in (tuple(p) for p in ribo_pairs)]
ov.add_collection(LineCollection(segs, colors='#2B2B2B', linewidths=0.62, alpha=0.85, zorder=1))
ov.add_collection(LineCollection(ribo_segs, colors='#1A1A1A', linewidths=0.7, alpha=0.9, zorder=1))
ov.add_collection(LineCollection([[e_pos[a], e_pos[b]] for a, b in E_BOLD], colors='black', linewidths=1.6, zorder=1))
for name, x, y in zip(E_NAMES, E_X, E_Y):
    ov.add_patch(FancyBboxPatch((x - 13.5, y - 6.5), 27, 13, boxstyle='round,pad=1.8,rounding_size=2',
                                facecolor=E_COLORS.get(name, '#7EC8F0'), edgecolor='none', zorder=2))
    ov.text(x, y, name, fontsize=6.1, color='#15384F', ha='center', va='center', zorder=2)

# panel F
f_segs = [[(F_X[a], F_Y[a]), (F_X[b], F_Y[b])] for a, b in combinations(range(len(F_NAMES)), 2)]
ov.add_collection(LineCollection(f_segs, colors='#222222', linewidths=0.95, zorder=1))
for name, x, y, col in zip(F_NAMES, F_X, F_Y, F_COLORS):
    ov.add_patch(FancyBboxPatch((x - 27, y - 14.5), 54, 29, boxstyle='round,pad=2.5,rounding_size=3',
                                facecolor=col, edgecolor='none', zorder=2))
    ov.text(x, y, name, fontsize=11.5, color='#1A1A1A', ha='center', va='center', zorder=3)

fig.savefig('out.png', dpi=100, facecolor='white')
